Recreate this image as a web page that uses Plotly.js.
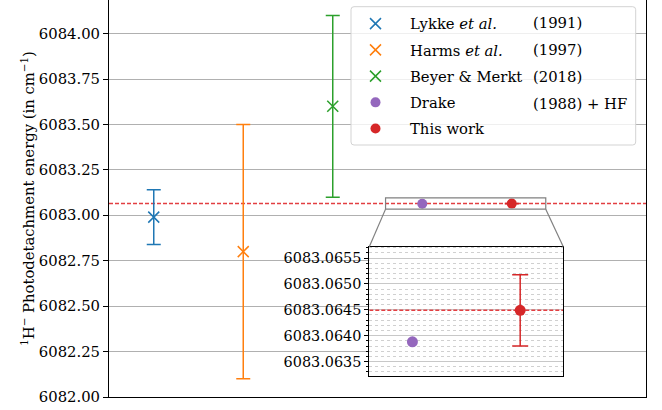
<!DOCTYPE html>
<html><head><meta charset="utf-8">
<script src="https://cdn.plot.ly/plotly-3.0.1.min.js"></script>
<style>html,body{margin:0;padding:0;background:#fff}#chart{width:662px;height:410px}</style>
</head><body><div id="chart"></div>
<script>
// ---- data ----
const names = ['Lykke <i>et al.</i>', 'Harms <i>et al.</i>', 'Beyer &amp; Merkt', 'Drake', 'This work'];
const years = ['(1991)', '(1997)', '(2018)', '(1988) + HF', ''];
const positions = [0, 1, 2, 3, 4];
const values = [6082.99, 6082.80, 6083.60, 6083.06388, 6083.06449];
const errors = [0.15, 0.70, 0.50, null, 0.00069];
const insetIdx = [3, 4];
const colors = ['#1f77b4', '#ff7f0e', '#2ca02c', '#9467bd', '#d62728'];
const symbols = ['x', 'x', 'x', 'circle', 'circle'];

// ---- geometry ----
const W = 662, H = 410, L = 109, R = 16, T = 0, B = 13;
const px2x = p => (p - L) / (W - L - R);
const py2y = p => (H - B - p) / (H - T - B);
const XR = [-0.5, 5.5], YR = [6082.0, 6084.185];
const IXR = [2.6, 4.4], IYR = [6083.06322, 6083.06572];
const IXD = [px2x(369.3), px2x(563.3)], IYD = [py2y(376), py2y(246.7)];
const ZX = [2.59, 4.38], ZY = [6083.034, 6083.096];
const d2px = x => (x - XR[0]) / (XR[1] - XR[0]);
const d2py = y => (y - YR[0]) / (YR[1] - YR[0]);
const FONT = 'DejaVu Serif';
const FS = 14.8;
const dashLine = {color: '#e23f42', width: 1.5, dash: '4px,2px'};

const traces = [];
traces.push({type: 'scatter', mode: 'lines', x: XR, y: [values[4], values[4]], line: dashLine,
  showlegend: false, hoverinfo: 'skip', xaxis: 'x', yaxis: 'y'});
for (let i = 0; i < names.length; i++) {
  const isX = symbols[i] === 'x';
  traces.push({
    type: 'scatter', mode: 'markers', x: [positions[i]], y: [values[i]], name: names[i],
    legendgroup: 'g' + i,
    marker: isX ? {symbol: 'x-thin-open', size: 11, color: colors[i], line: {color: colors[i], width: 1.5}}
                : {symbol: 'circle', size: 10, color: colors[i]},
    error_y: errors[i] != null ? {type: 'data', array: [errors[i]], color: colors[i], thickness: 1.5, width: 7, visible: true} : {visible: false},
    xaxis: 'x', yaxis: 'y', cliponaxis: false
  });
}
traces.push({type: 'scatter', mode: 'lines', x: IXR, y: [values[4], values[4]], line: dashLine,
  showlegend: false, hoverinfo: 'skip', xaxis: 'x2', yaxis: 'y2'});
insetIdx.forEach(i => {
  traces.push({
    type: 'scatter', mode: 'markers', x: [positions[i]], y: [values[i]], showlegend: false,
    marker: {symbol: 'circle', size: 11, color: colors[i]},
    error_y: errors[i] != null ? {type: 'data', array: [errors[i]], color: colors[i], thickness: 1.5, width: 8, visible: true} : {visible: false},
    xaxis: 'x2', yaxis: 'y2'
  });
});

const lf = {x0: 351, x1: 635.7, y0: 6.7, y1: 145, r: 3};
function framePath() {
  const rx = lf.r / (W - L - R), ry = lf.r / (H - T - B);
  const a = px2x(lf.x0), b = px2x(lf.x1), t = py2y(lf.y0), u = py2y(lf.y1);
  return `M${a + rx},${t} L${b - rx},${t} Q${b},${t} ${b},${t - ry} L${b},${u + ry} Q${b},${u} ${b - rx},${u} L${a + rx},${u} Q${a},${u} ${a},${u + ry} L${a},${t - ry} Q${a},${t} ${a + rx},${t} Z`;
}

const shapes = [
  {type: 'rect', xref: 'x', yref: 'y', x0: ZX[0], x1: ZX[1], y0: ZY[0], y1: ZY[1], layer: 'above',
   line: {color: '#808080', width: 1.2}},
  {type: 'line', xref: 'paper', yref: 'paper', x0: d2px(ZX[0]), y0: d2py(ZY[0]), x1: IXD[0], y1: IYD[1], layer: 'above',
   line: {color: '#808080', width: 1.2}},
  {type: 'line', xref: 'paper', yref: 'paper', x0: d2px(ZX[1]), y0: d2py(ZY[0]), x1: IXD[1], y1: IYD[1], layer: 'above',
   line: {color: '#808080', width: 1.2}},
  {type: 'path', xref: 'paper', yref: 'paper', path: framePath(), layer: 'above',
   fillcolor: 'rgba(255,255,255,0.8)', line: {color: '#d3d3d3', width: 1}}
];

const rowY = [22.7, 49.3, 76.5, 103.0, 129.0];
const annotations = [];
years.forEach((t, i) => {
  if (!t) return;
  annotations.push({xref: 'paper', yref: 'paper', x: px2x(530.7), y: py2y(rowY[i]), xanchor: 'left', yanchor: 'middle',
    text: t, showarrow: false, font: {family: FONT, size: FS, color: '#000'}});
});

const layout = {
  width: W, height: H, margin: {l: L, r: R, t: T, b: B},
  paper_bgcolor: '#fff', plot_bgcolor: '#fff',
  font: {family: FONT, size: FS, color: '#000'},
  showlegend: true,
  legend: {x: px2x(341), y: py2y(7.5), xanchor: 'left', yanchor: 'top', bgcolor: 'rgba(0,0,0,0)', borderwidth: 0,
           font: {family: FONT, size: FS, color: '#000'}, itemwidth: 59, traceorder: 'grouped', tracegroupgap: 4},
  xaxis: {domain: [0, 1], range: XR, showticklabels: false, ticks: '', showgrid: false, zeroline: false,
          showline: true, linecolor: '#000', linewidth: 1},
  yaxis: {range: YR, tickmode: 'linear', tick0: 6082, dtick: 0.25, tickformat: '.2f', ticks: 'outside', ticklen: 5,
          tickcolor: '#000', showline: true, linecolor: '#000', mirror: true, showgrid: true, gridcolor: '#b0b0b0',
          gridwidth: 1, zeroline: false, tickfont: {family: FONT, size: FS},
          title: {text: '<sup>1</sup>H<sup>−</sup> Photodetachment energy (in cm<sup>−1</sup>)', font: {family: FONT, size: FS}}},
  xaxis2: {domain: IXD, anchor: 'y2', range: IXR, showticklabels: false, ticks: '', showgrid: false, zeroline: false,
           showline: true, mirror: true, linecolor: '#000', linewidth: 1},
  yaxis2: {domain: IYD, anchor: 'x2', range: IYR, tickmode: 'linear', tick0: 6083.0635, dtick: 0.0005, tickformat: '.4f',
           ticks: 'outside', ticklen: 4, tickcolor: '#000', showline: true, mirror: true, linecolor: '#000',
           showgrid: true, gridcolor: '#c8c8c8', zeroline: false, tickfont: {family: FONT, size: 14.4},
           minor: {tick0: 6083.0635, dtick: 0.0001, ticks: 'outside', ticklen: 2, tickcolor: '#000', showgrid: true,
                   gridcolor: '#d0d0d0', griddash: 'dot', gridwidth: 1}},
  shapes: shapes,
  annotations: annotations
};

Plotly.newPlot('chart', traces, layout, {displayModeBar: false, staticPlot: true});
</script></body></html>
